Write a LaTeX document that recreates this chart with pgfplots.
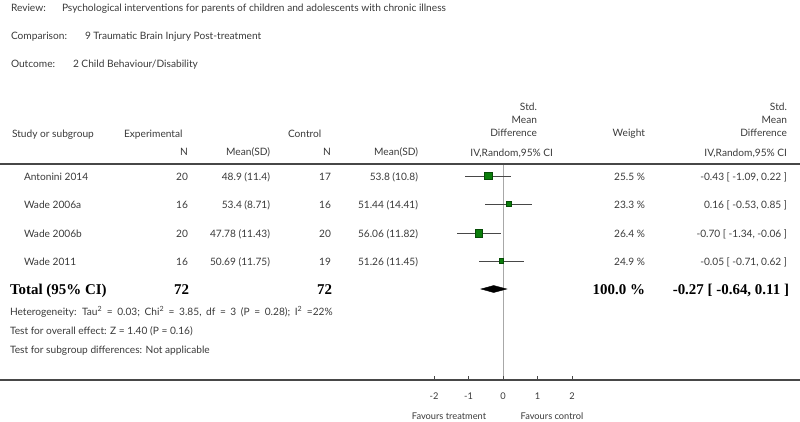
\documentclass[border=0pt]{standalone}
\usepackage{pgfplots}
\pgfplotsset{compat=1.18}
\usepackage{pgfplotstable}
\usepackage{fontspec}
\setmainfont{Lato}
\newfontfamily\totfont{Liberation Serif}

\definecolor{txt}{HTML}{3A3A3A}
\definecolor{rule}{HTML}{474747}
\definecolor{zero}{HTML}{A8A8A8}
\definecolor{sq}{HTML}{0A7D0A}
\definecolor{sqd}{HTML}{064C06}

% study rows: pixel row, SMD, CI half widths, square half size
\pgfplotstableread{
row md ep em ms
176 -0.43 0.65 0.66 3.6
204 0.16 0.69 0.69 2.4
233 -0.70 0.64 0.64 3.7
261 -0.05 0.67 0.66 2.4
}\studies

\begin{document}
\begin{tikzpicture}[x=1bp,y=-1bp,
  every node/.style={inner sep=0pt, outer sep=0pt, text=txt,
    font=\fontsize{10.2}{12}\selectfont, text height=7pt, text depth=2pt},
  L/.style={anchor=west}, R/.style={anchor=east},
  sc/.style={font=\fontsize{9.3}{11}\selectfont},
  tot/.style={font=\fontsize{15}{17}\selectfont\totfont\bfseries, text=black, text height=10pt, text depth=3pt}]
\useasboundingbox (0,0) rectangle (800,421);

\begin{axis}[
  at={(0,380)}, anchor=south west,
  width=800bp, height=380bp, scale only axis,
  xmin=-14.580, xmax=8.609,
  ymin=0, ymax=380, y dir=reverse,
  hide axis, clip=false,
  ]
  \addplot[zero, line width=0.7pt] coordinates {(0,164) (0,380)};
  \addplot[only marks, mark=none, error bars/.cd, x dir=both, x explicit,
    error mark=none, error bar style={rule, line width=0.7pt}]
    table[x=md, y=row, x error plus=ep, x error minus=em] {\studies};
  \addplot[scatter, only marks, mark=square*,
    scatter/use mapped color={draw=sqd, fill=sq},
    visualization depends on={\thisrow{ms} \as \msz},
    scatter/@pre marker code/.append style={/tikz/mark size=\msz}]
    table[x=md, y=row] {\studies};
  \addplot[fill=black, draw=black] coordinates
    {(-0.64,289) (-0.27,285.5) (0.11,289) (-0.27,292.5)} -- cycle;
  \pgfplotsinvokeforeach{-2,-1,0,1,2}{
    \draw[rule, line width=0.7pt] (axis cs:#1,380) -- (axis cs:#1,375.5);
  }
\end{axis}

\draw[rule, line width=1.5pt] (0,164) -- (800,164);
\draw[rule, line width=1.5pt] (0,380) -- (800,380);

% titles
\node[L] at (11,9) {Review:};
\node[L] at (62,9) {Psychological interventions for parents of children and adolescents with chronic illness};
\node[L] at (11,37) {Comparison:};
\node[L] at (85,37) {9 Traumatic Brain Injury Post-treatment};
\node[L] at (11,65) {Outcome:};
\node[L] at (73,65) {2 Child Behaviour/Disability};

% header
\node[L] at (12,135) {Study or subgroup};
\node[L] at (124,135) {Experimental};
\node[R] at (188,153) {N};
\node[R] at (270,153) {Mean(SD)};
\node[L] at (288,135) {Control};
\node[R] at (331,153) {N};
\node[R] at (418,153) {Mean(SD)};
\node[R] at (537,108) {Std.};
\node[R] at (537,121) {Mean};
\node[R] at (537,134) {Difference};
\node[R] at (553,154) {IV,Random,95\% CI};
\node[R] at (645,134) {Weight};
\node[R] at (787,108) {Std.};
\node[R] at (787,121) {Mean};
\node[R] at (787,134) {Difference};
\node[R] at (787,154) {IV,Random,95\% CI};

% study rows
\node[L] at (24,178) {Antonini 2014};
\node[R] at (188,178) {20};
\node[R] at (270,178) {48.9 (11.4)};
\node[R] at (331,178) {17};
\node[R] at (418,178) {53.8 (10.8)};
\node[R] at (645,178) {25.5 \%};
\node[R] at (787,178) {-0.43 [ -1.09, 0.22 ]};

\node[L] at (24,206) {Wade 2006a};
\node[R] at (188,206) {16};
\node[R] at (270,206) {53.4 (8.71)};
\node[R] at (331,206) {16};
\node[R] at (418,206) {51.44 (14.41)};
\node[R] at (645,206) {23.3 \%};
\node[R] at (787,206) {0.16 [ -0.53, 0.85 ]};

\node[L] at (24,235) {Wade 2006b};
\node[R] at (188,235) {20};
\node[R] at (270,235) {47.78 (11.43)};
\node[R] at (331,235) {20};
\node[R] at (418,235) {56.06 (11.82)};
\node[R] at (645,235) {26.4 \%};
\node[R] at (787,235) {-0.70 [ -1.34, -0.06 ]};

\node[L] at (24,263) {Wade 2011};
\node[R] at (188,263) {16};
\node[R] at (270,263) {50.69 (11.75)};
\node[R] at (331,263) {19};
\node[R] at (418,263) {51.26 (11.45)};
\node[R] at (645,263) {24.9 \%};
\node[R] at (787,263) {-0.05 [ -0.71, 0.62 ]};

% total
\node[L,tot] at (10,291) {Total (95\% CI)};
\node[R,tot] at (189,291) {72};
\node[R,tot] at (332,291) {72};
\node[R,tot] at (645,291) {100.0 \%};
\node[R,tot] at (789,291) {-0.27 [ -0.64, 0.11 ]};

\node[L] at (10,313) {\spaceskip=4.6pt Heterogeneity: Tau\textsuperscript{2} = 0.03; Chi\textsuperscript{2} = 3.85, df = 3 (P = 0.28); I\textsuperscript{2} =22\%};
\node[L] at (10,332) {Test for overall effect: Z = 1.40 (P = 0.16)};
\node[L] at (10,351) {Test for subgroup differences: Not applicable};

% scale labels
\foreach \xp/\lab in {434/-2, 468.5/-1, 503/0, 537.5/1, 572/2}
  \node[sc] at (\xp,397) {\lab};
\node[sc] at (449,417) {Favours treatment};
\node[sc] at (552,417) {Favours control};
\end{tikzpicture}
\end{document}
